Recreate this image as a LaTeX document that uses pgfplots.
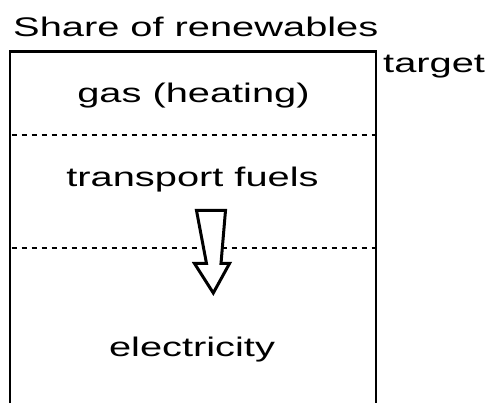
\documentclass[border=0pt]{standalone}
\usepackage{fontspec}
\setmainfont{Liberation Sans}
\usepackage{graphicx}
\usepackage{pgfplots}
\pgfplotsset{compat=1.18}

% text in the reference is stretched sideways
\newcommand{\wide}[1]{\scalebox{1.48}[1]{\fontsize{27}{30}\selectfont #1}}

\begin{document}
\begin{tikzpicture}
\begin{axis}[
  scale only axis,
  width=495bp, height=403bp,
  xmin=0, xmax=495, ymin=0, ymax=403,
  hide axis,
  clip=false,
]
\path (rel axis cs:0,0) rectangle (rel axis cs:1,1);

% ---- box, open at the bottom -------------------------------------------
\addplot[black, line width=2.3bp, line join=miter]
  coordinates {(10,0) (10,351.5) (376,351.5) (376,0)};

% ---- dashed separators --------------------------------------------------
\addplot[black, line width=1.2bp, dash pattern=on 5.5bp off 4.5bp]
  coordinates {(11.5,268) (375,268)};
\addplot[black, line width=1.2bp, dash pattern=on 5.5bp off 4.5bp]
  coordinates {(11.5,155) (375,155)};

% ---- hollow arrow ------------------------------------------------------
\addplot[black, fill=white, line width=3bp, line join=miter]
  coordinates {(196.5,192.5) (225.5,192.5) (221,139.5) (229.5,139.5)
               (213.3,110) (194.5,139.5) (206.5,139.5)} -- cycle;

% ---- labels -------------------------------------------------------------
\node[anchor=base west, inner sep=0pt] at (axis cs:13,366) {\wide{Share of renewables}};
\node[anchor=base west, inner sep=0pt] at (axis cs:383,330) {\wide{target}};
\node[anchor=base, inner sep=0pt] at (axis cs:193.5,300) {\wide{gas (heating)}};
\node[anchor=base, inner sep=0pt] at (axis cs:192.5,216) {\wide{transport fuels}};
\node[anchor=base, inner sep=0pt] at (axis cs:192,46) {\wide{electricity}};

\end{axis}
\end{tikzpicture}
\end{document}
